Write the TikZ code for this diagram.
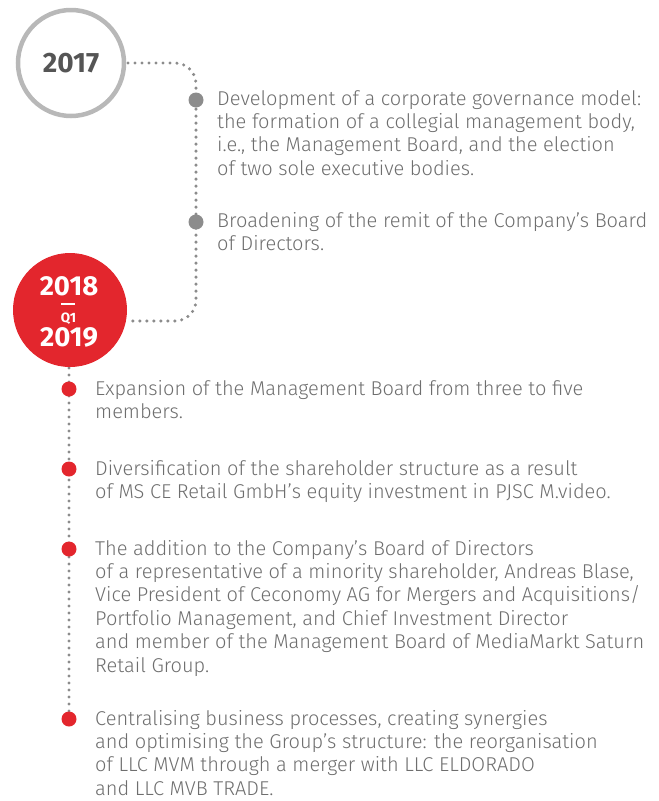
\documentclass[tikz,border=0pt]{standalone}
\usepackage{fontspec}
\setmainfont{Fira Sans}[UprightFont=* Light, BoldFont=* Medium]
\newfontfamily\yearfont{Fira Sans}[UprightFont=* Bold]
\definecolor{txtgray}{HTML}{6E6E6E}
\definecolor{dotgray}{HTML}{8C8C8C}
\definecolor{ringgray}{HTML}{B8B8B8}
\definecolor{yeargray}{HTML}{555555}
\definecolor{mred}{HTML}{E3262D}
\tikzset{
  dotline/.style={draw=dotgray, line width=3.4pt, line cap=round, dash pattern=on 0pt off 7pt},
  graybullet/.style={circle, fill=dotgray, minimum size=15pt, inner sep=0pt},
  redbullet/.style={circle, fill=mred, minimum size=15pt, inner sep=0pt},
  itemtext/.style={anchor=base west, align=left, inner sep=0pt, text=txtgray,
    font=\fontsize{20}{23.4}\selectfont},
}
\begin{document}
\begin{tikzpicture}[x=1pt, y=-1pt]
\useasboundingbox (0,0) rectangle (659,801);
% connectors
\coordinate (c1s) at (128,63);
\coordinate (c1k) at (196,63);
\coordinate (c1m) at (196,321);
\coordinate (c1e) at (130,321);
\draw[dotline, rounded corners=21pt] (c1s) -- (c1k) -- (c1m) -- (c1e);
\coordinate (c2s) at (69,368);
\coordinate (c2e) at (69,719);
\draw[dotline] (c2s) -- (c2e);
% year circles
\node[circle, draw=ringgray, line width=4.5pt, minimum size=106pt, inner sep=0pt,
  font=\yearfont\fontsize{28}{28}\selectfont, text=yeargray] (y2017) at (71,63) {2017};
\node[circle, fill=mred, minimum size=114pt, inner sep=0pt] (y2018) at (70,310) {};
\node[text=white, font=\yearfont\fontsize{27.5}{27.5}\selectfont, anchor=base, inner sep=0pt] (t2018) at (69,295.5) {2018};
\node[text=white, font=\yearfont\fontsize{13.5}{13.5}\selectfont, anchor=base, inner sep=0pt] (tq1) at (68.5,322) {Q1};
\coordinate (bar1) at (61,303.5);
\coordinate (bar2) at (75,303.5);
\draw[white, line width=2pt] (bar1) -- (bar2);
\node[text=white, font=\yearfont\fontsize{27.5}{27.5}\selectfont, anchor=base, inner sep=0pt] (t2019) at (69,346) {2019};
% bullets
\node[graybullet] (b1) at (196,100) {};
\node[graybullet] (b2) at (196,222) {};
\node[redbullet] (b3) at (69,389) {};
\node[redbullet] (b4) at (69,469) {};
\node[redbullet] (b5) at (69,549) {};
\node[redbullet] (b6) at (69,719) {};
% texts (anchored at the baseline of their last line)
\node[itemtext] (i1) at (217,175.2) {Development of a corporate governance model:\\the formation of a collegial management body,\\i.e., the Management Board, and the election\\of two sole executive bodies.};
\node[itemtext] (i2) at (217,250.4) {Broadening of the remit of the Company’s Board\\of Directors.};
\node[itemtext] (i3) at (95,418.4) {Expansion of the Management Board from three to five\\members.};
\node[itemtext] (i4) at (95,498.4) {Diversification of the shareholder structure as a result\\of MS CE Retail GmbH’s equity investment in PJSC M.video.};
\node[itemtext] (i5) at (95,672) {The addition to the Company’s Board of Directors\\of a representative of a minority shareholder, Andreas Blase,\\Vice President of Ceconomy AG for Mergers and Acquisitions/\\Portfolio Management, and Chief Investment Director\\and member of the Management Board of MediaMarkt Saturn\\Retail Group.};
\node[itemtext] (i6) at (95,795.2) {Centralising business processes, creating synergies\\and optimising the Group’s structure: the reorganisation\\of LLC MVM through a merger with LLC ELDORADO\\and LLC MVB TRADE.};
\end{tikzpicture}
\end{document}
